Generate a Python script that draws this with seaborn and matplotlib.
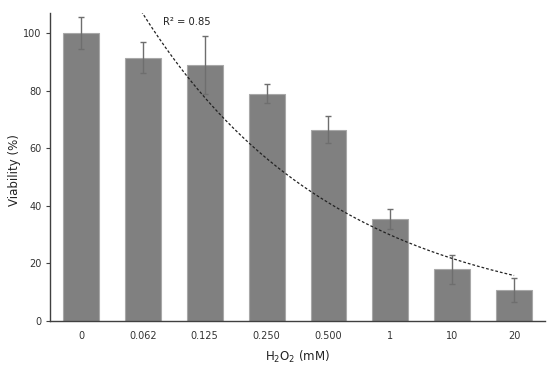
import numpy as np
import pandas as pd
import matplotlib
matplotlib.use("Agg")
import matplotlib.pyplot as plt
import seaborn as sns

categories = ["0", "0.062", "0.125", "0.250", "0.500", "1", "10", "20"]
viability = [100.0, 91.5, 88.9, 79.0, 66.5, 35.3, 17.9, 10.7]
errors = [5.5, 5.3, 10.0, 3.3, 4.6, 3.5, 4.9, 4.1]
r2_label = "R² = 0.85"

sns.set_theme(style="white")
plt.rcParams['font.family'] = ['DejaVu Sans']

fig = plt.figure(figsize=(5.5, 3.69), dpi=100)
ax = fig.add_axes([0.091, 0.130, 0.900, 0.835])

df = pd.DataFrame({"conc": categories, "via": viability})
sns.barplot(data=df, x="conc", y="via", color="#808080", saturation=1,
            width=0.58, edgecolor="#a8a8a8", linewidth=0.8, ax=ax, errorbar=None)
x = np.arange(len(categories))
ax.errorbar(x, viability, yerr=errors, fmt="none", ecolor="#6e6e6e",
            elinewidth=1.0, capsize=2.5, capthick=1.0, zorder=3)

# Exponential trendline fit (as in spreadsheet), x = 1..8
xs = x + 1
b, lna = np.polyfit(xs, np.log(viability), 1)
xf = np.linspace(1, len(categories), 200)
yf = np.exp(lna) * np.exp(b * xf)
ax.plot(xf - 1, yf, ls=(0, (2.2, 1.6)), color="#222222", lw=0.9, zorder=4)
ax.text(1.33, 103.8, r2_label, fontsize=7.2, color="#222222", va="center")

ax.set_ylim(0, 107)
ax.set_xlim(-0.5, len(categories) - 0.5)
ax.set_yticks([0, 20, 40, 60, 80, 100])
ax.set_xticks(x)
ax.set_xticklabels(categories)
ax.set_xticks(np.arange(-0.5, len(categories), 1.0), minor=True)
ax.tick_params(axis="x", which="major", length=0, labelsize=7, pad=7, colors="#333333")
ax.tick_params(axis="x", which="minor", length=4, width=0.8, direction="inout", color="#404040")
ax.tick_params(axis="y", length=3, width=0.8, direction="out", labelsize=7, pad=3,
               color="#404040", labelcolor="#333333", left=True)
for s in ["top", "right"]:
    ax.spines[s].set_visible(False)
for s in ["left", "bottom"]:
    ax.spines[s].set_color("#404040")
    ax.spines[s].set_linewidth(1.0)

ax.set_xlabel("H$_2$O$_2$ (mM)", fontsize=8.5, color="#222222", labelpad=6)
ax.set_ylabel("Viability (%)", fontsize=8.5, color="#222222")
ax.yaxis.set_label_coords(-0.058, 0.49)

fig.savefig("out.png", dpi=100)
